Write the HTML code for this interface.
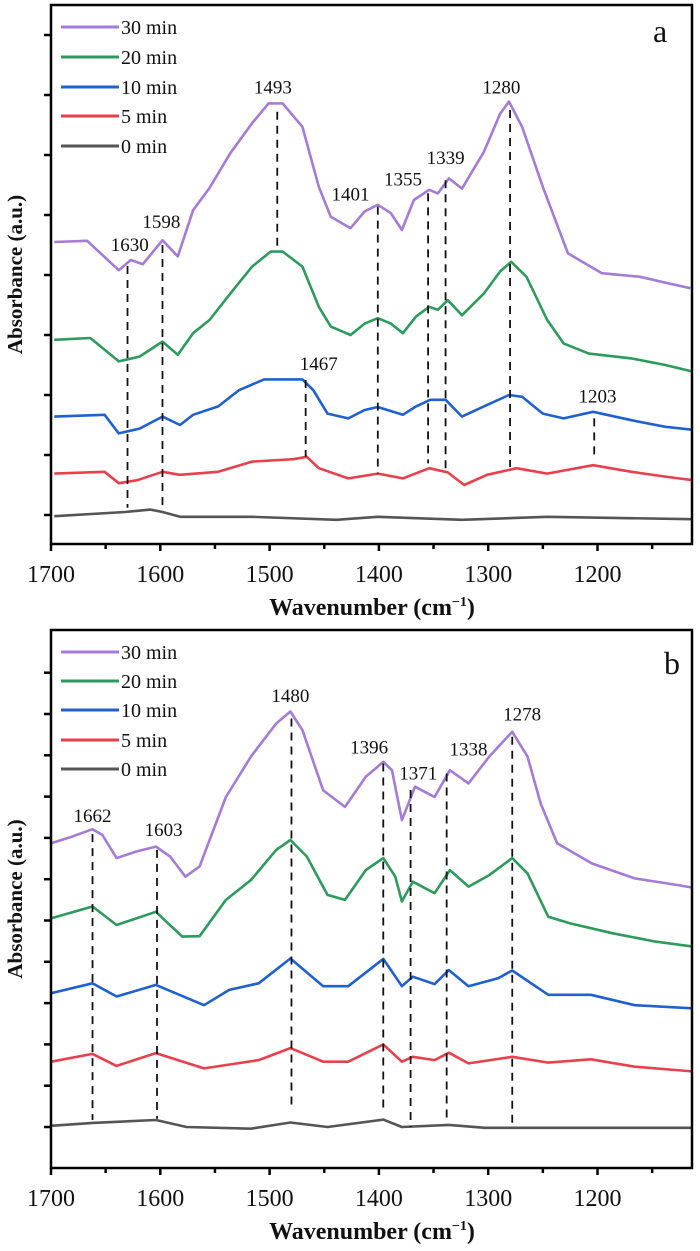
<!DOCTYPE html>
<html><head><meta charset="utf-8"><style>
body{margin:0;background:#fff;}
svg{display:block;font-family:"Liberation Serif",serif;}
</style></head><body>
<svg id="chart" width="700" height="1251" viewBox="0 0 700 1251" xmlns="http://www.w3.org/2000/svg"></svg>
<script>
// ---------- Panel a data ----------
const aSeriesNames = ["30 min","20 min","10 min","5 min","0 min"];
const aW30 = [1697,1667,1638,1627,1616,1598,1584,1570,1555,1536,1516,1501,1488,1470,1455,1444,1426,1413,1401,1389,1379,1368,1354,1346,1336,1324,1304,1289,1281,1269,1250,1227,1196,1161,1135,1115];
const aV30 = [4.55,4.57,4.08,4.25,4.18,4.58,4.31,5.08,5.45,6.03,6.53,6.86,6.86,6.47,5.47,4.97,4.78,5.06,5.17,5.03,4.75,5.25,5.42,5.36,5.61,5.44,6.05,6.69,6.89,6.47,5.47,4.36,4.03,3.97,3.86,3.78];
const aW20 = [1697,1664,1638,1619,1598,1584,1570,1555,1536,1516,1499,1488,1470,1455,1444,1426,1413,1401,1389,1378,1366,1354,1346,1337,1324,1304,1289,1279,1265,1246,1231,1208,1169,1138,1113];
const aV20 = [2.92,2.95,2.56,2.64,2.89,2.67,3.03,3.25,3.69,4.14,4.39,4.39,4.14,3.47,3.14,3.0,3.19,3.28,3.19,3.03,3.31,3.47,3.42,3.58,3.33,3.69,4.06,4.22,3.97,3.25,2.86,2.69,2.61,2.50,2.39];
const aW10 = [1697,1651,1638,1619,1598,1582,1570,1547,1528,1505,1470,1460,1447,1428,1413,1401,1378,1366,1353,1339,1324,1304,1281,1269,1250,1231,1204,1169,1138,1113];
const aV10 = [1.64,1.67,1.36,1.44,1.64,1.50,1.67,1.81,2.08,2.26,2.26,2.08,1.69,1.61,1.75,1.80,1.67,1.81,1.92,1.92,1.64,1.81,2.00,1.97,1.69,1.61,1.72,1.58,1.47,1.42];
const aV5W = [1697,1651,1638,1621,1598,1582,1547,1516,1478,1466,1455,1428,1401,1378,1354,1337,1322,1301,1274,1246,1204,1169,1138,1113];
const aV5 = [0.69,0.72,0.53,0.58,0.72,0.67,0.72,0.89,0.93,0.97,0.78,0.61,0.69,0.61,0.78,0.71,0.50,0.67,0.78,0.69,0.83,0.72,0.64,0.58];
const aW0 = [1697,1632,1609,1598,1582,1516,1439,1401,1324,1246,1113];
const aV0 = [-0.02,0.05,0.09,0.05,-0.03,-0.03,-0.08,-0.03,-0.08,-0.03,-0.07];
const aPeakLabels = ["1630","1598","1493","1401","1355","1339","1280","1467","1203"];
const aPeakW = [1630,1598,1493,1401,1355,1339,1280,1467,1203];
const aDashTop = [4.15,4.5,6.72,5.14,5.36,5.58,6.75,2.25,1.61];
const aDashBot = [0.12,0.12,4.45,0.69,0.86,0.69,0.8,0.97,0.97];
const aLabelW = [1628,1599,1497,1426,1378,1339,1288,1455,1200];
const aLabelV = [4.52,4.9,7.14,5.36,5.61,5.97,7.14,2.53,1.99];

// ---------- Panel b data ----------
const bW30 = [1700,1681,1662,1653,1640,1622,1604,1591,1577,1564,1540,1517,1494,1481,1470,1451,1431,1412,1396,1388,1379,1367,1349,1335,1318,1299,1278,1264,1252,1237,1205,1166,1127,1110];
const bV30 = [6.87,7.03,7.21,7.07,6.51,6.67,6.79,6.55,6.06,6.31,7.99,8.97,9.77,10.06,9.61,8.15,7.75,8.48,8.84,8.64,7.43,8.24,7.99,8.64,8.32,8.97,9.57,8.97,7.83,6.87,6.38,6.02,5.86,5.78];
const bW20 = [1700,1662,1640,1604,1580,1564,1540,1517,1494,1481,1466,1447,1431,1412,1396,1385,1379,1369,1349,1335,1318,1299,1278,1264,1245,1225,1186,1147,1110];
const bV20 = [5.05,5.34,4.89,5.21,4.61,4.62,5.5,5.98,6.71,6.95,6.55,5.62,5.5,6.22,6.51,6.06,5.46,5.94,5.66,6.22,5.82,6.1,6.51,6.14,5.09,4.93,4.69,4.49,4.36];
const bW10 = [1700,1662,1640,1604,1560,1537,1510,1481,1451,1428,1396,1379,1369,1349,1336,1318,1291,1278,1245,1206,1166,1110];
const bV10 = [3.24,3.48,3.16,3.44,2.95,3.32,3.48,4.08,3.41,3.41,4.07,3.41,3.64,3.46,3.8,3.41,3.6,3.79,3.2,3.2,2.95,2.87];
const bW5 = [1700,1662,1640,1604,1560,1510,1481,1451,1428,1396,1379,1369,1349,1336,1318,1278,1245,1206,1166,1110];
const bV5 = [1.58,1.77,1.48,1.79,1.42,1.62,1.91,1.58,1.58,2.0,1.58,1.70,1.62,1.80,1.54,1.70,1.56,1.64,1.46,1.34];
const bW0 = [1700,1662,1604,1576,1517,1481,1447,1396,1379,1336,1303,1110];
const bV0 = [0.03,0.1,0.17,0.0,-0.04,0.11,0.0,0.18,0.0,0.05,-0.02,-0.02];
const bPeakLabels = ["1662","1603","1480","1396","1371","1338","1278"];
const bPeakW = [1662,1603,1480,1396,1371,1338,1278];
const bDashTop = [7.09,6.71,9.89,8.8,8.16,8.56,9.45];
const bDashBot = [0.17,0.2,0.41,0.41,0.0,0.2,0.0];
const bLabelW = [1662,1597,1481,1409,1364,1318,1269];
const bLabelV = [7.55,7.21,10.46,9.21,8.58,9.17,10.01];

const xTicks = [1700,1600,1500,1400,1300,1200];
const colors = ["#a57bd8","#2e9a5c","#2060d0","#e8404c","#555555"];

const NS = "http://www.w3.org/2000/svg";
const svg = document.getElementById("chart");
function mk(tag, attrs, parent){
  const e = document.createElementNS(NS, tag);
  for (const k in attrs) e.setAttribute(k, attrs[k]);
  (parent||svg).appendChild(e);
  return e;
}
const X0 = 51, X1 = 692, W0 = 1700, WPX = 1.093;
function xs(w){ return X0 + (W0 - w) * WPX; }

function panel(cfg){
  const g = mk("g", {});
  
  
  const ys = v => cfg.base - v * cfg.unit;
  const clip = mk("clipPath", {id: cfg.name + "-clip"}, g);
  mk("rect", {x: X0, y: cfg.top, width: X1 - X0, height: cfg.bottom - cfg.top}, clip);
  const sg = mk("g", {"clip-path": "url(#" + cfg.name + "-clip)"}, g);
  for (let i = cfg.series.length - 1; i >= 0; i--){
    const s = cfg.series[i];
    const pts = s.w.map((w, j) => xs(w).toFixed(1) + "," + ys(s.v[j]).toFixed(1)).join(" ");
    const pl = mk("polyline", {points: pts, fill: "none", stroke: colors[i], "stroke-width": 2.6, "stroke-linejoin": "round"}, sg);
    
    
  }
  cfg.peaks.forEach((lab, i) => {
    const x = xs(cfg.peakW[i]);
    const dl = mk("line", {x1: x, x2: x, y1: ys(cfg.dTop[i]), y2: ys(cfg.dBot[i]), stroke: "#111", "stroke-width": 1.8, "stroke-dasharray": "8,6"}, g);
    
    
    const t = mk("text", {x: xs(cfg.lw[i]), y: ys(cfg.lv[i]) + 7, "text-anchor": "middle", "font-size": 19, fill: "#111"}, g);
    t.textContent = lab;
    
    
  });
  const fr = mk("rect", {x: X0, y: cfg.top, width: X1 - X0, height: cfg.bottom - cfg.top, fill: "none", stroke: "#000", "stroke-width": 2.5}, g);
  
  
  for (let k = 0; k <= cfg.nTicks; k++){
    const y = cfg.base - k * cfg.unit;
    if (y < cfg.top + 5) continue;
    const tk = mk("line", {x1: X0 - 7, x2: X0, y1: y, y2: y, stroke: "#000", "stroke-width": 2.5}, g);
    
    
  }
  for (let w = 1700; w >= 1150; w -= 50){
    const x = xs(w);
    const major = w % 100 === 0;
    const tk = mk("line", {x1: x, x2: x, y1: cfg.bottom, y2: cfg.bottom + (major ? 7 : 5), stroke: "#000", "stroke-width": 2.5}, g);
    
    
  }
  xTicks.forEach(w => {
    const t = mk("text", {x: xs(w), y: cfg.bottom + 38, "text-anchor": "middle", "font-size": 24, fill: "#111"}, g);
    t.textContent = w;
    
    
  });
  const xt = mk("text", {x: 372, y: cfg.bottom + 71, "text-anchor": "middle", "font-size": 24, "font-weight": "bold", fill: "#111"}, g);
  xt.innerHTML = 'Wavenumber (cm<tspan dy="-9" font-size="14">−1</tspan><tspan dy="9">)</tspan>';
  
  
  const yc = (cfg.top + cfg.bottom) / 2;
  const yt = mk("text", {x: 22, y: yc, transform: "rotate(-90 22 " + yc + ")", "text-anchor": "middle", "font-size": 21, "font-weight": "bold", fill: "#111"}, g);
  yt.textContent = "Absorbance (a.u.)";
  
  
  const pl = mk("text", {x: cfg.letterX, y: cfg.letterY, "font-size": 32, fill: "#111"}, g);
  pl.textContent = cfg.letter;
  
  
  const lg = mk("g", {}, g);
  
  
  aSeriesNames.forEach((n, i) => {
    const y = cfg.legY[i];
    const le = mk("g", {}, lg);
    
    
    mk("line", {x1: 61, x2: 119, y1: y, y2: y, stroke: colors[i], "stroke-width": 3}, le);
    const t = mk("text", {x: 121, y: y + 7, "font-size": 20, fill: "#111"}, le);
    t.textContent = n;
  });
}

panel({name: "panel-a", top: 5, bottom: 544, base: 515, unit: 60, nTicks: 8,
  series: [{w: aW30, v: aV30}, {w: aW20, v: aV20}, {w: aW10, v: aV10}, {w: aV5W, v: aV5}, {w: aW0, v: aV0}],
  peaks: aPeakLabels, peakW: aPeakW, dTop: aDashTop, dBot: aDashBot, lw: aLabelW, lv: aLabelV,
  letter: "a", letterX: 653, letterY: 42, legY: [27, 57, 87, 116, 146]});
panel({name: "panel-b", top: 630, bottom: 1168, base: 1127, unit: 41.3, nTicks: 11,
  series: [{w: bW30, v: bV30}, {w: bW20, v: bV20}, {w: bW10, v: bV10}, {w: bW5, v: bV5}, {w: bW0, v: bV0}],
  peaks: bPeakLabels, peakW: bPeakW, dTop: bDashTop, dBot: bDashBot, lw: bLabelW, lv: bLabelV,
  letter: "b", letterX: 664, letterY: 674, legY: [652, 681, 710, 740, 769]});
</script>
</body></html>
